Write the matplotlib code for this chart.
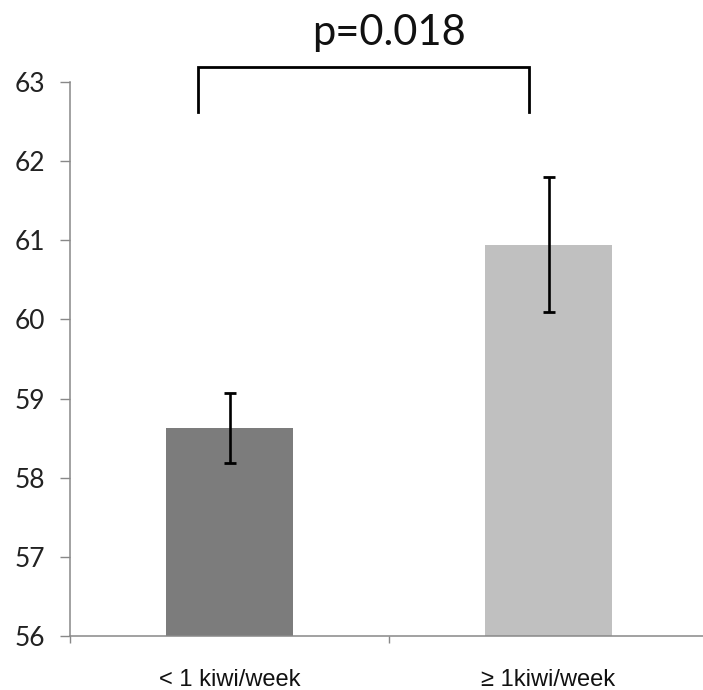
import matplotlib
matplotlib.use("Agg")
import matplotlib.pyplot as plt

categories = ["< 1 kiwi/week", "\u2265 1kiwi/week"]
means = [58.63, 60.94]
err_low = [58.19, 60.10]
err_high = [59.07, 61.80]
colors = ["#7c7c7c", "#c0c0c0"]
p_text = "p=0.018"
yticks = [56, 57, 58, 59, 60, 61, 62, 63]

W, H = 703, 690
fig = plt.figure(figsize=(W / 100, H / 100), dpi=100)
ax = fig.add_axes([70 / W, 54 / H, 638 / W, 554 / H])

x = list(range(len(categories)))
base = 56
heights = [m - base for m in means]
ax.bar(x, heights, bottom=base, width=0.40, color=colors, zorder=2)
yerr = [[m - lo for m, lo in zip(means, err_low)], [hi - m for m, hi in zip(means, err_high)]]
ax.errorbar(x, means, yerr=yerr, fmt="none", ecolor="black", elinewidth=1.9,
            capsize=4.5, capthick=2, zorder=3)

ax.set_xlim(-0.5, 1.5)
ax.set_ylim(56, 63)

# significance bracket
bx0, bx1 = -0.098, 0.939
by_top, by_bot = 63.19, 62.62
ax.plot([bx0, bx0, bx1, bx1], [by_bot, by_top, by_top, by_bot], color="black",
        lw=2, clip_on=False, solid_joinstyle="miter")
ax.text(0.5, 63.47, p_text, ha="center", va="baseline", fontsize=30,
        family=["Lato", "DejaVu Sans"], color="#111111", clip_on=False)

for s in ["top", "right"]:
    ax.spines[s].set_visible(False)
for s in ["left", "bottom"]:
    ax.spines[s].set_color("#888888")
    ax.spines[s].set_linewidth(1.1)

ax.set_yticks(yticks)
ax.set_yticklabels([str(v) for v in yticks], family=["Lato", "DejaVu Sans"], fontsize=19,
                   color="#222222")
ax.tick_params(axis="y", direction="out", length=7, width=1, color="#888888", pad=11)

ax.set_xticks([-0.5, 0.5, 1.5])
ax.set_xticklabels(["", "", ""])
ax.tick_params(axis="x", which="major", direction="out", length=5, width=1, color="#888888")
ax.set_xticks(x, minor=True)
ax.set_xticklabels(categories, minor=True, family=["Liberation Sans", "DejaVu Sans"],
                   fontsize=17, color="#111111")
ax.tick_params(axis="x", which="minor", length=0, pad=24)

fig.savefig("out.png", dpi=100)
